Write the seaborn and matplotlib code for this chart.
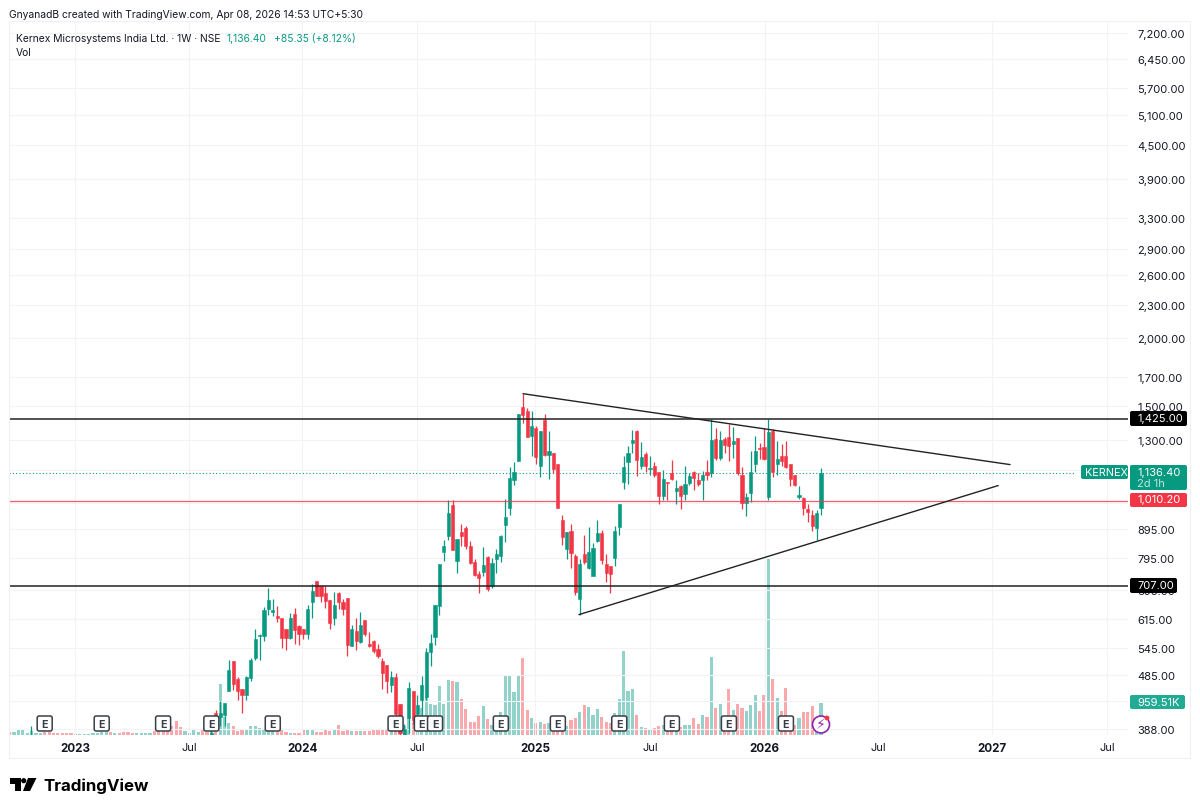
import numpy as np
import pandas as pd
import matplotlib
matplotlib.use("Agg")
import matplotlib.pyplot as plt
from matplotlib.patches import FancyBboxPatch, Circle, Polygon, Rectangle
from matplotlib.ticker import NullLocator, NullFormatter
import seaborn as sns

opens = [378,414,407,410,454,515,478,458,447,480,522,573,573,641,632,622,616,589,568,628,596,589,578,659,720,705,686,667,617,686,659,671,548,585,558,611,554,561,542,515,507,465,482,431,378,406,455,412,438,443,535,570,649,813,
         872,990,783,885,901,836,782,741,749,797,707,789,801,911,978,1100,1195,1497,1474,1323,1371,1170,1419,1223,1234,1180,930,826,891,800,669,806,761,736,851,882,775,767,794,904,
         1092,1187,1286,1354,1170,1227,1155,1170,1138,1029,1094,1135,1052,1076,1040,1088,1141,1100,1100,1138,1135,1308,1207,1310,1319,1280,1314,1127,1000,1043,1180,1258,1263,1026,1354,1180,1217,1217,1176,1124,1024,1023,976,950,900,981]
highs = [384,420,435,432,518,515,482,458,484,522,589,578,647,700,669,649,616,589,631,644,599,589,651,713,720,707,707,667,688,688,669,671,600,617,633,611,581,563,554,522,507,494,491,431,395,471,455,447,483,544,578,651,774,855,
         1012,1012,860,914,908,851,789,751,831,800,793,824,876,1017,1162,1188,1453,1582,1489,1469,1380,1350,1453,1355,1234,1180,950,885,914,806,792,873,904,845,933,892,806,767,907,994,
         1220,1269,1356,1360,1291,1237,1217,1186,1138,1147,1094,1197,1103,1080,1167,1135,1144,1135,1143,1200,1423,1370,1351,1318,1391,1376,1314,1163,1043,1243,1323,1286,1370,1423,1364,1298,1280,1295,1180,1127,1076,1026,995,970,973,1157]
lows = [377,407,392,392,454,457,438,414,437,473,518,517,560,626,622,606,544,540,564,554,552,565,564,617,676,659,644,589,600,641,626,527,548,540,556,573,546,533,522,458,451,452,403,377,377,381,395,403,406,438,504,552,626,783,
        855,820,746,834,823,773,736,686,736,690,700,744,781,848,949,1080,1195,1397,1319,1220,1178,1116,1220,1106,1135,980,840,789,761,681,624,773,758,736,849,775,719,686,767,876,
        1061,1085,1234,1122,1151,1138,1127,1116,997,1011,1011,1100,997,976,1014,1080,1058,1073,1014,1103,1116,1200,1200,1234,1195,1207,1127,976,946,1003,1138,1203,1200,1014,1116,1127,1167,1157,1076,1076,1018,950,923,891,855,950]
closes = [381,408,414,432,497,467,454,447,482,518,564,575,639,667,639,617,567,568,616,586,578,578,641,690,676,676,662,605,653,659,642,552,589,560,600,578,548,537,527,490,473,482,412,381,387,460,403,429,465,535,556,651,774,834,
          959,820,860,872,836,778,738,730,772,697,779,806,870,943,1111,1138,1453,1447,1319,1384,1213,1350,1223,1245,1151,980,866,885,811,688,773,780,815,828,882,786,747,741,888,994,
          1161,1232,1300,1200,1212,1170,1160,1127,1029,1108,1088,1106,1067,1032,1081,1122,1112,1085,1127,1127,1304,1207,1300,1277,1269,1295,1135,1000,1026,1141,1243,1255,1203,1349,1139,1203,1195,1163,1108,1077,1036,980,961,907,959,1136.4]

# volume in thousands; the first weeks have no candle on screen
early_volume = [70,70,130,130,50,100,50,50,70,70,60,50,50,50,40,30,30,30,30,40,50,70,70,70,50,50,70,80,40,50,50,50,50,100,100,100,100,250,400,220,110,50,130,70,130,70]
early_dirs = list("RGGGGGGGRRRRRRRRGGGGGGGRGRRRRGGGGRRRRRRRGGGGRR")
candle_volume = [100,150,1530,530,350,270,100,130,130,270,270,200,170,200,150,80,150,70,50,50,50,130,150,150,80,80,130,100,130,300,100,130,120,100,100,100,100,130,130,150,130,130,150,100,250,500,350,600,800,1150,930,900,1460,930,
                 1640,1610,1570,1070,780,390,370,570,850,480,300,550,670,1800,1750,1290,1780,2300,740,500,350,380,320,350,230,150,150,250,450,500,690,900,830,580,770,530,380,350,650,1070,
                 2520,1310,1370,600,230,200,170,200,250,300,150,130,130,230,280,300,510,330,590,530,2320,810,930,550,1380,750,930,800,720,900,1180,700,1200,5300,1660,1100,700,1390,450,300,510,680,670,870,450,960]

date_ticks = [14.9, 40.9, 66.7, 92.9, 119.8, 146, 172.2, 198, 224, 250.2]
date_labels = ["2023", "Jul", "2024", "Jul", "2025", "Jul", "2026", "Jul", "2027", "Jul"]
price_ticks = [388, 435, 485, 545, 615, 695, 795, 895, 1000, 1150, 1300, 1500, 1700, 2000, 2300, 2600, 2900, 3300, 3900, 4500, 5100, 5700, 6450, 7200]
# these three sit fully behind a price tag in the reference, only the grid line shows
covered_ticks = [435, 1000, 1150]
earnings_weeks = [8, 21, 35, 46, 60, 88, 94, 97, 112, 125, 139, 151, 164, 177]

upper_line_weeks = [117.05, 228.1]
upper_line_prices = [1582, 1175]
lower_line_weeks = [129.8, 225.4]
lower_line_prices = [626, 1076]
level_black = [1425, 707]
level_red = 1010.2
last_price = 1136.4

GREEN = "#089981"
RED = "#F23645"
TEXT = "#131722"
GRID = "#f2f3f6"

sns.set_theme(style="white")
plt.rcParams["font.family"] = ["Inter", "DejaVu Sans"]

n_early = len(early_volume)
candles = pd.DataFrame({"open": opens, "high": highs, "low": lows, "close": closes})
candles["week"] = np.arange(len(candles)) + n_early
candles["up"] = candles["close"] >= candles["open"]

volumes = pd.DataFrame({"volume": early_volume + candle_volume})
volumes["week"] = np.arange(len(volumes))
volumes["direction"] = early_dirs + ["G" if u else "R" for u in candles["up"]]

fig = plt.figure(figsize=(12, 8.12), dpi=100, facecolor="white")
ax = fig.add_axes([9 / 1200, (812 - 735.6) / 812, 1119 / 1200, 714 / 812])

# volume sits on its own linear scale under the price pane
vol_ax = ax.twinx()
sns.barplot(data=volumes, x="week", y="volume", hue="direction", native_scale=True, dodge=False,
            palette={"G": "#91d2ca", "R": "#f9a9ac"}, hue_order=["G", "R"], width=0.72, saturation=1,
            linewidth=0, legend=False, ax=vol_ax)
vol_ax.set_ylim(0, 21420)
vol_ax.set_yticks([])
vol_ax.set_ylabel("")
vol_ax.set_xlabel("")
ax.set_zorder(vol_ax.get_zorder() + 1)
ax.patch.set_visible(False)

ax.set_yscale("log")
ax.set_ylim(378.4, 7571)
ax.set_xlim(-0.14, 255)

colors = [GREEN if u else RED for u in candles["up"]]
ax.vlines(candles["week"], candles["low"], candles["high"], colors=colors, lw=0.9, zorder=3)
ax.bar(candles["week"], (candles["close"] - candles["open"]).abs(),
       bottom=candles[["open", "close"]].min(axis=1), width=0.72, color=colors,
       edgecolor=colors, linewidth=0.4, zorder=4)

# the one early wick that pokes above the scale floor
ax.vlines([4.9], [375], [392], colors=GREEN, lw=0.9, zorder=3)

for level in level_black:
    ax.axhline(level, color="#222222", lw=1.1, zorder=5)
ax.axhline(level_red, color=RED, lw=0.9, alpha=0.8, zorder=5)
ax.plot([-0.14, 243], [last_price, last_price], color=GREEN, lw=0.8, ls=(0, (1, 2)), zorder=2)
ax.plot(upper_line_weeks, upper_line_prices, color="#222222", lw=1.0, zorder=6)
ax.plot(lower_line_weeks, lower_line_prices, color="#222222", lw=1.0, zorder=6)

ax.yaxis.tick_right()
ax.set_yticks(price_ticks, labels=["" if p in covered_ticks else f"{p:,.2f}" for p in price_ticks])
ax.yaxis.set_minor_locator(NullLocator())
ax.yaxis.set_minor_formatter(NullFormatter())
ax.tick_params(axis="y", length=0, pad=6.5, labelsize=8.0, labelcolor=TEXT)
ax.set_xticks(date_ticks, labels=date_labels)
ax.tick_params(axis="x", length=0, pad=5, labelsize=8.0, labelcolor=TEXT)
for lbl, txt in zip(ax.get_xticklabels(), date_labels):
    if txt != "Jul":
        lbl.set_fontweight("bold")
        lbl.set_fontsize(8.4)
ax.grid(True, color=GRID, lw=0.8)
ax.set_axisbelow(True)
ax.set_ylabel("")
ax.set_xlabel("")
for ax_ in (ax, vol_ax):
    for s in ax_.spines.values():
        s.set_visible(False)

# chrome: header, price tags, earnings flags, logo, in pixel coordinates
over = fig.add_axes([0, 0, 1, 1], zorder=20)
over.set_xlim(0, 1200)
over.set_ylim(812, 0)
over.axis("off")
over.add_patch(Rectangle((9, 21.5), 1181, 737.5, fill=False, ec="#f0f1f3", lw=0.8))


def week_px(w):
    return 9.6 + 4.386 * w


def price_tag(x0, x1, y0, y1, color):
    over.add_patch(FancyBboxPatch((x0, y0), x1 - x0, y1 - y0, boxstyle="round,pad=0,rounding_size=2",
                                  fc=color, ec="none", zorder=2))


over.text(9, 15, "GnyanadB created with TradingView.com, Apr 08, 2026 14:53 UTC+5:30", fontsize=7.4, color=TEXT, va="center")
over.text(16, 39, "Kernex Microsystems India Ltd. · 1W · NSE", fontsize=7.4, color=TEXT, va="center")
over.text(227, 39, "1,136.40", fontsize=7.4, color=GREEN, va="center")
over.text(274, 39, "+85.35 (+8.12%)", fontsize=7.4, color=GREEN, va="center")
over.text(16, 53, "Vol", fontsize=7.4, color=TEXT, va="center")

price_tag(1130, 1187, 412, 427, "#000000")
over.text(1137, 419.5, "1,425.00", fontsize=8.0, color="white", va="center", zorder=3)
price_tag(1130, 1177, 579, 594, "#000000")
over.text(1137, 586, "707.00", fontsize=8.0, color="white", va="center", zorder=3)
price_tag(1081, 1128, 466, 480, GREEN)
over.text(1085, 473, "KERNEX", fontsize=7.8, color="white", va="center", zorder=3)
price_tag(1130, 1187, 466, 491, GREEN)
over.text(1137, 473, "1,136.40", fontsize=8.0, color="white", va="center", zorder=3)
over.text(1137, 484, "2d 1h", fontsize=8.0, color="#b9e6dd", va="center", zorder=3)
price_tag(1130, 1187, 494, 508, RED)
over.text(1137, 500.5, "1,010.20", fontsize=8.0, color="white", va="center", zorder=3)
price_tag(1130, 1185, 696, 710, "#22ab94")
over.text(1137, 703, "959.51K", fontsize=8.0, color="white", va="center", zorder=3)

for w in earnings_weeks:
    cx = week_px(w)
    over.add_patch(FancyBboxPatch((cx - 7.5, 717), 15, 15, boxstyle="round,pad=0,rounding_size=2",
                                  fc="white", ec="#3a3e48", lw=1.1, zorder=4))
    over.text(cx, 724.8, "E", fontsize=7.6, fontweight="bold", color="#3a3e48", ha="center", va="center", zorder=5)

over.add_patch(Circle((821, 725.5), 8.5, fc="white", ec="#8e24aa", lw=1.2, zorder=6))
over.text(821, 725.5, "\u26a1", fontsize=10, color="#8e24aa", ha="center", va="center", zorder=7, family="DejaVu Sans")
over.add_patch(Circle((827, 719), 2.4, fc=RED, ec="none", zorder=8))

# logo drawn from plain shapes
over.add_patch(Polygon([(10, 779), (21, 779), (21, 792), (15, 792), (15, 785), (10, 785)], fc="black", ec="none"))
over.add_patch(Circle((23.7, 781.7), 2.6, fc="black", ec="none"))
over.add_patch(Polygon([(28, 779), (36.5, 779), (30, 792), (23, 792)], fc="black", ec="none"))
over.text(43, 786, "TradingView", fontsize=12.2, fontweight="bold", color="black", va="center")

fig.savefig("out.png", dpi=100)
